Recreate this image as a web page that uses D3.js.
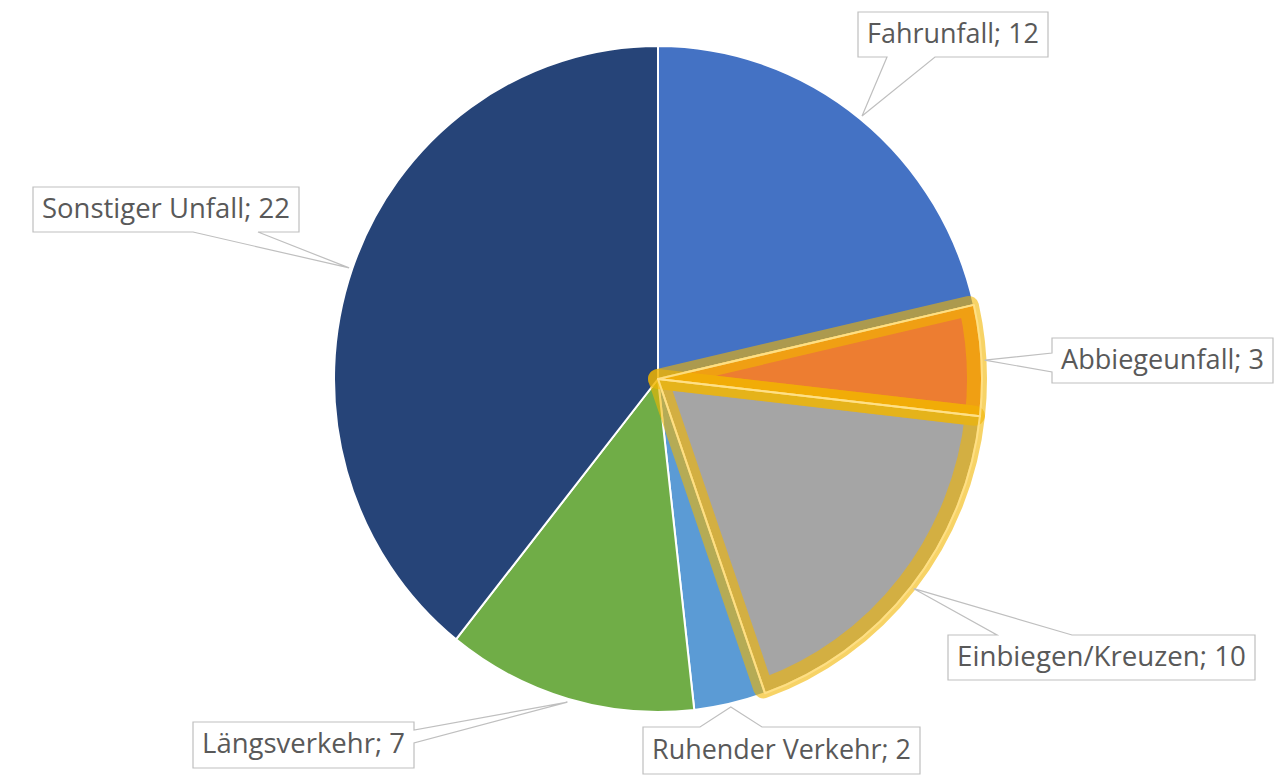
<!DOCTYPE html>
<html>
<head>
<meta charset="utf-8">
<script src="https://cdn.jsdelivr.net/npm/d3@7"></script>
<style>
  html, body { margin: 0; padding: 0; background: #ffffff; }
  svg { display: block; }
</style>
</head>
<body>
<svg id="chart" width="1275" height="776"></svg>
<script>
// ---- data ----
const categories = ["Fahrunfall", "Abbiegeunfall", "Einbiegen/Kreuzen", "Ruhender Verkehr", "Längsverkehr", "Sonstiger Unfall"];
const values = [12, 3, 10, 2, 7, 22];
const colors = ["#4472C4", "#ED7D31", "#A5A5A5", "#5B9BD5", "#70AD47", "#264478"];
const highlighted = ["Abbiegeunfall", "Einbiegen/Kreuzen"];

// ---- layout (label callout boxes) ----
const labelLayout = [
  { x0: 858,  y0: 12,  x1: 1048, y1: 57,  side: "bottom", b0: 887, b1: 935 },
  { x0: 1052, y0: 338, x1: 1273, y1: 383, side: "left",   b0: 353, b1: 372 },
  { x0: 948,  y0: 635, x1: 1255, y1: 680, side: "top",    b0: 997, b1: 1072 },
  { x0: 643,  y0: 727, x1: 920,  y1: 774, side: "top",    b0: 700, b1: 762 },
  { x0: 193,  y0: 722, x1: 414,  y1: 768, side: "right",  b0: 730, b1: 743 },
  { x0: 33,   y0: 187, x1: 299,  y1: 232, side: "bottom", b0: 193, b1: 258 }
];

const cx = 658, cy = 379, rx = 324, ry = 333;
const svg = d3.select("#chart");

const data = categories.map((c, i) => ({ name: c, value: values[i], color: colors[i] }));
const pie = d3.pie().value(d => d.value).sort(null);
const arcs = pie(data);
const arc = d3.arc().innerRadius(0).outerRadius(rx);
const arcHl = d3.arc().innerRadius(0).outerRadius(rx - 5);

const g = svg.append("g").attr("transform", `translate(${cx},${cy}) scale(1,${ry / rx})`);

g.selectAll("path.slice")
  .data(arcs)
  .enter().append("path")
  .attr("class", "slice")
  .attr("d", arc)
  .attr("fill", d => d.data.color)
  .attr("stroke", "#ffffff")
  .attr("stroke-width", 2)
  .attr("vector-effect", "non-scaling-stroke")
  .attr("stroke-linejoin", "round");

// selection highlight
const hl = arcs.filter(d => highlighted.includes(d.data.name));
g.selectAll("path.hl")
  .data(hl)
  .enter().append("path")
  .attr("class", "hl")
  .attr("d", arcHl)
  .attr("fill", "none")
  .attr("stroke", "#F2B600")
  .attr("stroke-opacity", 0.6)
  .attr("stroke-width", 20)
  .attr("stroke-linejoin", "round")
  .attr("vector-effect", "non-scaling-stroke");
g.selectAll("path.hl2")
  .data(hl)
  .enter().append("path")
  .attr("class", "hl2")
  .attr("d", arc)
  .attr("fill", "none")
  .attr("stroke", "#FFE08A")
  .attr("stroke-opacity", 0.85)
  .attr("stroke-width", 2)
  .attr("stroke-linejoin", "round")
  .attr("vector-effect", "non-scaling-stroke");

// ---- labels ----
const labels = svg.append("g");
arcs.forEach((a, i) => {
  const L = labelLayout[i];
  const mid = (a.startAngle + a.endAngle) / 2;
  const tx = cx + rx * 1.01 * Math.sin(mid);
  const ty = cy - ry * 1.01 * Math.cos(mid);
  let p;
  const { x0, y0, x1, y1 } = L;
  if (L.side === "bottom") {
    p = `M${x0},${y0}H${x1}V${y1}H${L.b1}L${tx},${ty}L${L.b0},${y1}H${x0}Z`;
  } else if (L.side === "top") {
    p = `M${x0},${y0}H${L.b0}L${tx},${ty}L${L.b1},${y0}H${x1}V${y1}H${x0}Z`;
  } else if (L.side === "left") {
    p = `M${x0},${y0}H${x1}V${y1}H${x0}V${L.b1}L${tx},${ty}L${x0},${L.b0}Z`;
  } else {
    p = `M${x0},${y0}H${x1}V${L.b0}L${tx},${ty}L${x1},${L.b1}V${y1}H${x0}Z`;
  }
  labels.append("path")
    .attr("d", p)
    .attr("fill", "#ffffff")
    .attr("stroke", "#BFBFBF")
    .attr("stroke-width", 1.2);

  const t = labels.append("text")
    .attr("x", (x0 + x1) / 2)
    .attr("y", (y0 + y1) / 2 + 8)
    .attr("text-anchor", "middle")
    .attr("font-family", "'Open Sans', sans-serif")
    .attr("font-size", 23)
    .attr("fill", "#595959")
    .text(`${a.data.name}; ${a.data.value}`);
  const target = (x1 - x0) - 18;
  const len = t.node().getComputedTextLength();
  t.attr("font-size", 23 * target / len);
});
</script>
</body>
</html>
